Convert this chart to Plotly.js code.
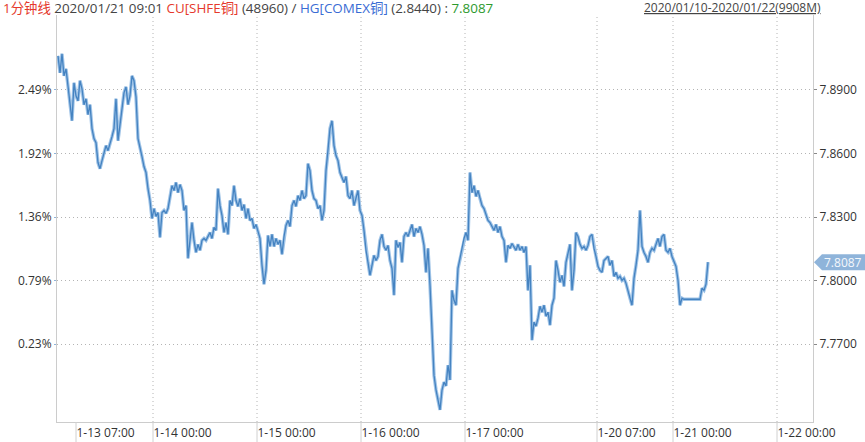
<!DOCTYPE html>
<html>
<head>
<meta charset="utf-8">
<script src="https://cdn.plot.ly/plotly-3.0.1.min.js"></script>
<style>html,body{margin:0;padding:0;background:#fff;}#chart{width:865px;height:442px;}</style>
</head>
<body>
<div id="chart"></div>
<script>
// Ratio CU[SHFE] / HG[COMEX], 1-minute line, sampled
const ratioValues = [
7.9060,7.8980,7.9070,7.8966,7.8999,7.8924,7.8839,7.8754,7.8933,7.8872,
7.8848,7.8943,7.8905,7.8830,7.8858,7.8783,7.8830,7.8717,7.8670,7.8651,
7.8557,7.8528,7.8566,7.8604,7.8637,7.8613,7.8641,7.8679,7.8717,7.8858,
7.8660,7.8731,7.8792,7.8886,7.8914,7.8830,7.8872,7.8966,7.8943,7.8867,
7.8670,7.8632,7.8585,7.8538,7.8510,7.8434,7.8378,7.8293,7.8340,7.8303,
7.8321,7.8204,7.8321,7.8331,7.8317,7.8340,7.8401,7.8448,7.8425,7.8463,
7.8415,7.8453,7.8425,7.8331,7.8354,7.8105,7.8190,7.8274,7.8190,7.8133,
7.8171,7.8143,7.8190,7.8199,7.8190,7.8208,7.8227,7.8199,7.8251,7.8237,
7.8434,7.8354,7.8307,7.8227,7.8274,7.8218,7.8378,7.8354,7.8448,7.8378,
7.8350,7.8387,7.8331,7.8359,7.8293,7.8340,7.8284,7.8293,7.8246,7.8265,
7.8237,7.8199,7.8072,7.7983,7.8048,7.8213,7.8161,7.8218,7.8161,7.8199,
7.8171,7.8190,7.8124,7.8208,7.8260,7.8284,7.8255,7.8354,7.8378,7.8350,
7.8401,7.8378,7.8425,7.8387,7.8401,7.8552,7.8519,7.8425,7.8387,7.8378,
7.8340,7.8354,7.8284,7.8331,7.8519,7.8604,7.8717,7.8754,7.8637,7.8590,
7.8566,7.8510,7.8481,7.8463,7.8491,7.8401,7.8387,7.8425,7.8354,7.8387,
7.8425,7.8331,7.8307,7.8237,7.8143,7.8086,7.8025,7.8072,7.8119,7.8095,
7.8114,7.8190,7.8218,7.8161,7.8143,7.8166,7.8095,7.8058,7.7931,7.8190,
7.8157,7.8180,7.8086,7.8208,7.8227,7.8208,7.8237,7.8265,7.8208,7.8246,
7.8227,7.8255,7.8218,7.8166,7.8039,7.8152,7.7978,7.7766,7.7554,7.7484,
7.7427,7.7390,7.7484,7.7521,7.7503,7.7601,7.7531,7.7954,7.7907,7.7884,
7.8058,7.8105,7.8143,7.8199,7.8227,7.8190,7.8510,7.8415,7.8448,7.8397,
7.8425,7.8387,7.8354,7.8340,7.8307,7.8284,7.8274,7.8255,7.8237,7.8265,
7.8227,7.8255,7.8208,7.8190,7.8086,7.8166,7.8152,7.8175,7.8161,7.8143,
7.8171,7.8143,7.8161,7.8133,7.8161,7.7954,7.8072,7.7719,7.7804,7.7785,
7.7823,7.7879,7.7851,7.7884,7.7832,7.7851,7.7790,7.7884,7.7917,7.8095,
7.8048,7.7992,7.8025,7.7973,7.8086,7.8133,7.8171,7.7954,7.8048,7.8227,
7.8208,7.8171,7.8152,7.8161,7.8143,7.8166,7.8208,7.8218,7.8152,7.8114,
7.8067,7.8048,7.8039,7.8095,7.8105,7.8114,7.8072,7.8095,7.8020,7.8039,
7.8011,7.8020,7.8001,7.8011,7.7987,7.7945,7.7917,7.7884,7.8011,7.8072,
7.8143,7.8331,7.8161,7.8133,7.8114,7.8086,7.8133,7.8152,7.8143,7.8171,
7.8199,7.8161,7.8208,7.8218,7.8143,7.8133,7.8152,7.8114,7.8086,7.8067,
7.8001,7.7884,7.7917,7.7912,7.7912,7.7912,7.7912,7.7912,7.7912,7.7912,
7.7912,7.7912,7.7964,7.7954,7.7983,7.8087
];

// x tick positions (sample index) and labels
const xTickVals = [9, 47.5, 99.5, 151.5, 203.5, 269.5, 307.5, 359.5];
const xTickText = ['1-13 07:00','1-14 00:00','1-15 00:00','1-16 00:00','1-17 00:00','1-20 07:00','1-21 00:00','1-22 00:00'];
const xGridVals = [47.5, 99.5, 151.5, 203.5, 269.5, 307.5, 359.5];

// y ticks: right price, left percent
const yTickVals = [7.77, 7.80, 7.83, 7.86, 7.89];
const yTickTextRight = ['7.7700','7.8000','7.8300','7.8600','7.8900'];
const yTickTextLeft = ['0.23%','0.79%','1.36%','1.92%','2.49%'];

const lastValue = ratioValues[ratioValues.length - 1];
const xIdx = ratioValues.map((_, i) => i);
const yRange = [7.7333, 7.9253];
const xRange = [-0.5, 377.5];

const FONT = "'Open Sans', 'Noto Sans CJK SC', sans-serif";
const DOTS = '1px,3px';

const traces = [
  {x: xIdx, y: ratioValues, type: 'scatter', mode: 'lines', yaxis: 'y',
   line: {color: 'rgba(150,190,228,0.9)', width: 3.4}, hoverinfo: 'skip', showlegend: false},
  {x: xIdx, y: ratioValues, type: 'scatter', mode: 'lines', yaxis: 'y2',
   line: {color: '#4583c1', width: 1.3}, showlegend: false}
];

const shapes = [];
xTickVals.forEach(v => shapes.push({type: 'line', xref: 'x', yref: 'paper', x0: v, x1: v, y0: 0, y1: -0.06,
  line: {color: '#d0d0d0', width: 1}}));
xGridVals.forEach(v => shapes.push({type: 'line', xref: 'x', yref: 'paper', x0: v, x1: v, y0: 0, y1: 1,
  line: {color: '#b4b4b4', width: 1, dash: DOTS}, layer: 'below'}));
shapes.push({type: 'path', xref: 'paper', yref: 'y', xsizemode: 'pixel', ysizemode: 'pixel',
  xanchor: 1, yanchor: lastValue, path: 'M1,0 L9,8 L53,8 L53,-8 L9,-8 Z',
  fillcolor: '#8fb4da', line: {width: 0}});

const headerText = "<span style='color:#e5392c'>1分钟线</span> 2020/01/21 09:01 <span style='color:#e5392c'>CU[SHFE铜]</span> (48960) / <span style='color:#3a6cd4'>HG[COMEX铜]</span> (2.8440) : <span style='color:#2e9a2e'>7.8087</span>";

const layout = {
  width: 865, height: 442,
  margin: {l: 57, r: 52, t: 15, b: 20},
  paper_bgcolor: '#fff', plot_bgcolor: '#fff',
  font: {family: FONT, size: 12, color: '#333'},
  xaxis: {
    range: xRange, showgrid: false, zeroline: false,
    tickvals: xTickVals, ticktext: xTickText, ticks: '', ticklabelposition: 'outside right',
    showline: true, linecolor: '#cccccc', linewidth: 1,
    tickfont: {family: FONT, size: 12, color: '#333'}
  },
  yaxis: {
    range: yRange, side: 'right', tickvals: yTickVals, ticktext: yTickTextRight,
    showgrid: true, gridcolor: '#b4b4b4', griddash: DOTS, zeroline: false,
    showline: true, linecolor: '#cccccc', linewidth: 1,
    ticks: 'outside', ticklen: 3, tickcolor: '#888',
    tickfont: {family: FONT, size: 12, color: '#333'}
  },
  yaxis2: {
    range: yRange, side: 'left', overlaying: 'y', tickvals: yTickVals, ticktext: yTickTextLeft,
    showgrid: false, zeroline: false, showline: true, linecolor: '#cccccc', linewidth: 1,
    ticks: 'outside', ticklen: 2, tickcolor: '#8fb4da',
    tickfont: {family: FONT, size: 12, color: '#333'}
  },
  shapes: shapes,
  annotations: [
    {xref: 'paper', yref: 'paper', x: -55 / 756, y: 1 + 7 / 407, xanchor: 'left', yanchor: 'middle',
     text: headerText, showarrow: false, borderpad: 0,
     font: {family: FONT, size: 13.4, color: '#444'}},
    {xref: 'paper', yref: 'paper', x: 1.0066, y: 1 + 7 / 407, xanchor: 'right', yanchor: 'middle', xshift: 4,
     text: '<u>2020/01/10-2020/01/22(9908M)</u>', showarrow: false, borderpad: 0,
     font: {family: FONT, size: 12, color: '#444'}},
    {xref: 'paper', yref: 'y', x: 1, y: lastValue, xanchor: 'left', yanchor: 'middle', xshift: 9,
     text: lastValue.toFixed(4), showarrow: false,
     font: {family: FONT, size: 12, color: '#f4f8fc'}}
  ]
};

Plotly.newPlot('chart', traces, layout, {displayModeBar: false, staticPlot: true});
</script>
</body>
</html>
